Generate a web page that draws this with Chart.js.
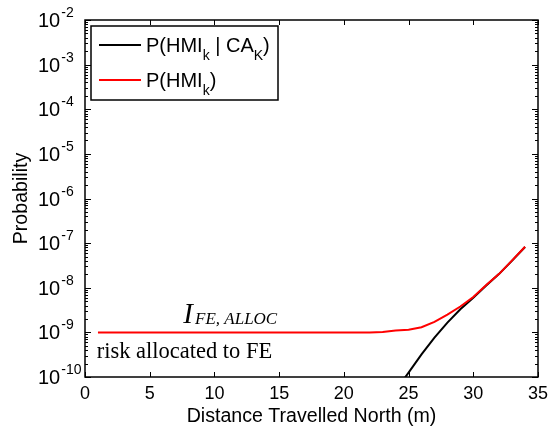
<!DOCTYPE html>
<html>
<head>
<meta charset="utf-8">
<script src="https://cdn.jsdelivr.net/npm/chart.js@4/dist/chart.umd.min.js"></script>
<style>
  html, body { margin: 0; padding: 0; background: #fff; }
  #wrap { width: 551px; height: 429px; }
</style>
</head>
<body>
<div id="wrap"><canvas id="c" width="551" height="429"></canvas></div>
<script>
// ---- data ----
const distance = [1,2,3,4,5,6,7,8,9,10,11,12,13,14,15,16,17,18,19,20,21,22,23,24,25,26,27,28,29,30,31,32,33,34];
const probHMI = [1e-9,1e-9,1e-9,1e-9,1e-9,1e-9,1e-9,1e-9,1e-9,1e-9,1e-9,1e-9,1e-9,1e-9,1e-9,1e-9,1e-9,1e-9,1e-9,1e-9,1e-9,1e-9,
  1.02e-9,1.1e-9,1.15e-9,1.3e-9,1.72e-9,2.5e-9,3.8e-9,6.2e-9,1.15e-8,2.05e-8,4.1e-8,8.3e-8];
const probHMIgivenCA = [null,null,null,null,null,null,null,null,null,null,null,null,null,null,null,null,null,null,null,null,null,null,
  null,5e-11,1.25e-10,3.2e-10,7.6e-10,1.65e-9,3.3e-9,6e-9,1.12e-8,2.05e-8,4.05e-8,8.2e-8];
const xTicks = [0,5,10,15,20,25,30,35];
const yExponents = [-2,-3,-4,-5,-6,-7,-8,-9,-10];
const xTitle = 'Distance Travelled North (m)';
const yTitle = 'Probability';
const annoMain = 'I';
const annoSub = 'FE, ALLOC';
const annoText = 'risk allocated to FE';

const pts = (ys) => distance.map((d, i) => ({x: d, y: ys[i]}));

const SANS = '"Liberation Sans", Arial, sans-serif';
const SERIF = '"Liberation Serif", "Times New Roman", serif';

const matlabAxes = {
  id: 'matlabAxes',
  afterDraw(chart) {
    const ctx = chart.ctx;
    const xs = chart.scales.x, ys = chart.scales.y;
    const a = chart.chartArea;
    ctx.save();
    ctx.strokeStyle = '#000';
    ctx.fillStyle = '#000';
    ctx.lineWidth = 1.5;
    ctx.strokeRect(a.left, a.top, a.right - a.left, a.bottom - a.top);
    ctx.lineWidth = 1;
    ctx.beginPath();
    xTicks.forEach(v => {
      const px = Math.round(xs.getPixelForValue(v)) + 0.5;
      ctx.moveTo(px, a.bottom); ctx.lineTo(px, a.bottom - 5);
      ctx.moveTo(px, a.top); ctx.lineTo(px, a.top + 5);
    });
    for (let e = -10; e <= -2; e++) {
      for (let m = 1; m <= 9; m++) {
        if (e === -2 && m > 1) break;
        const py = Math.round(ys.getPixelForValue(m * Math.pow(10, e))) + 0.5;
        const len = m === 1 ? 6 : 3;
        ctx.moveTo(a.left, py); ctx.lineTo(a.left + len, py);
        ctx.moveTo(a.right, py); ctx.lineTo(a.right - len, py);
      }
    }
    ctx.stroke();

    ctx.font = '18px ' + SANS;
    ctx.textAlign = 'center';
    ctx.textBaseline = 'alphabetic';
    xTicks.forEach(v => {
      ctx.fillText(String(v), xs.getPixelForValue(v), a.bottom + 22);
    });
    yExponents.forEach(e => {
      const py = ys.getPixelForValue(Math.pow(10, e));
      ctx.textAlign = 'left';
      ctx.font = '20px ' + SANS;
      ctx.fillText('10', 38, py + 7);
      const w = ctx.measureText('10').width;
      ctx.font = '14px ' + SANS;
      ctx.fillText(String(e), 38 + w + 1, py - 3);
    });
    ctx.font = '19.6px ' + SANS;
    ctx.textAlign = 'center';
    ctx.fillText(xTitle, (a.left + a.right) / 2, 422);
    ctx.save();
    ctx.translate(27, (a.top + a.bottom) / 2);
    ctx.rotate(-Math.PI / 2);
    ctx.fillText(yTitle, 0, 0);
    ctx.restore();

    ctx.textAlign = 'left';
    const ax = xs.getPixelForValue(7.6);
    const ay = ys.getPixelForValue(1e-9);
    ctx.font = 'italic 29px ' + SERIF;
    ctx.fillText(annoMain, ax, ay - 9);
    const iw = ctx.measureText(annoMain).width;
    ctx.font = 'italic 17px ' + SERIF;
    ctx.fillText(annoSub, ax + iw + 2, ay - 8);
    ctx.font = '22.5px ' + SERIF;
    ctx.fillText(annoText, xs.getPixelForValue(0.9), ay + 26);

    const lx = 91, ly = 26, lw = 187, lh = 74;
    ctx.fillStyle = '#fff';
    ctx.fillRect(lx, ly, lw, lh);
    ctx.lineWidth = 1.5;
    ctx.strokeStyle = '#000';
    ctx.strokeRect(lx, ly, lw, lh);
    const rows = [
      {color: '#000', y: 45, parts: [['P(HMI', 0], ['k', 1], [' | CA', 0], ['K', 1], [')', 0]]},
      {color: '#ff0000', y: 80, parts: [['P(HMI', 0], ['k', 1], [')', 0]]}
    ];
    rows.forEach(r => {
      ctx.strokeStyle = r.color;
      ctx.lineWidth = 2;
      ctx.beginPath();
      ctx.moveTo(99, r.y); ctx.lineTo(141, r.y);
      ctx.stroke();
      let tx = 146;
      ctx.fillStyle = '#000';
      r.parts.forEach(([t, sub]) => {
        ctx.font = (sub ? '14px ' : '20px ') + SANS;
        ctx.fillText(t, tx, r.y + (sub ? 15 : 7));
        tx += ctx.measureText(t).width;
      });
    });
    ctx.restore();
  }
};

new Chart(document.getElementById('c'), {
  type: 'line',
  data: {
    datasets: [
      {label: 'P(HMI_k)', data: pts(probHMI), borderColor: '#ff0000', borderWidth: 2, pointRadius: 0, tension: 0, fill: false},
      {label: 'P(HMI_k | CA_K)', data: pts(probHMIgivenCA), borderColor: '#000000', borderWidth: 2, pointRadius: 0, tension: 0, fill: false, spanGaps: false}
    ]
  },
  options: {
    responsive: false,
    animation: false,
    devicePixelRatio: 1,
    layout: {padding: {left: 85, top: 20, right: 13, bottom: 52}},
    plugins: {legend: {display: false}, tooltip: {enabled: false}},
    scales: {
      x: {type: 'linear', min: 0, max: 35, display: false},
      y: {type: 'logarithmic', min: 1e-10, max: 1e-2, display: false}
    }
  },
  plugins: [matlabAxes]
});
</script>
</body>
</html>
